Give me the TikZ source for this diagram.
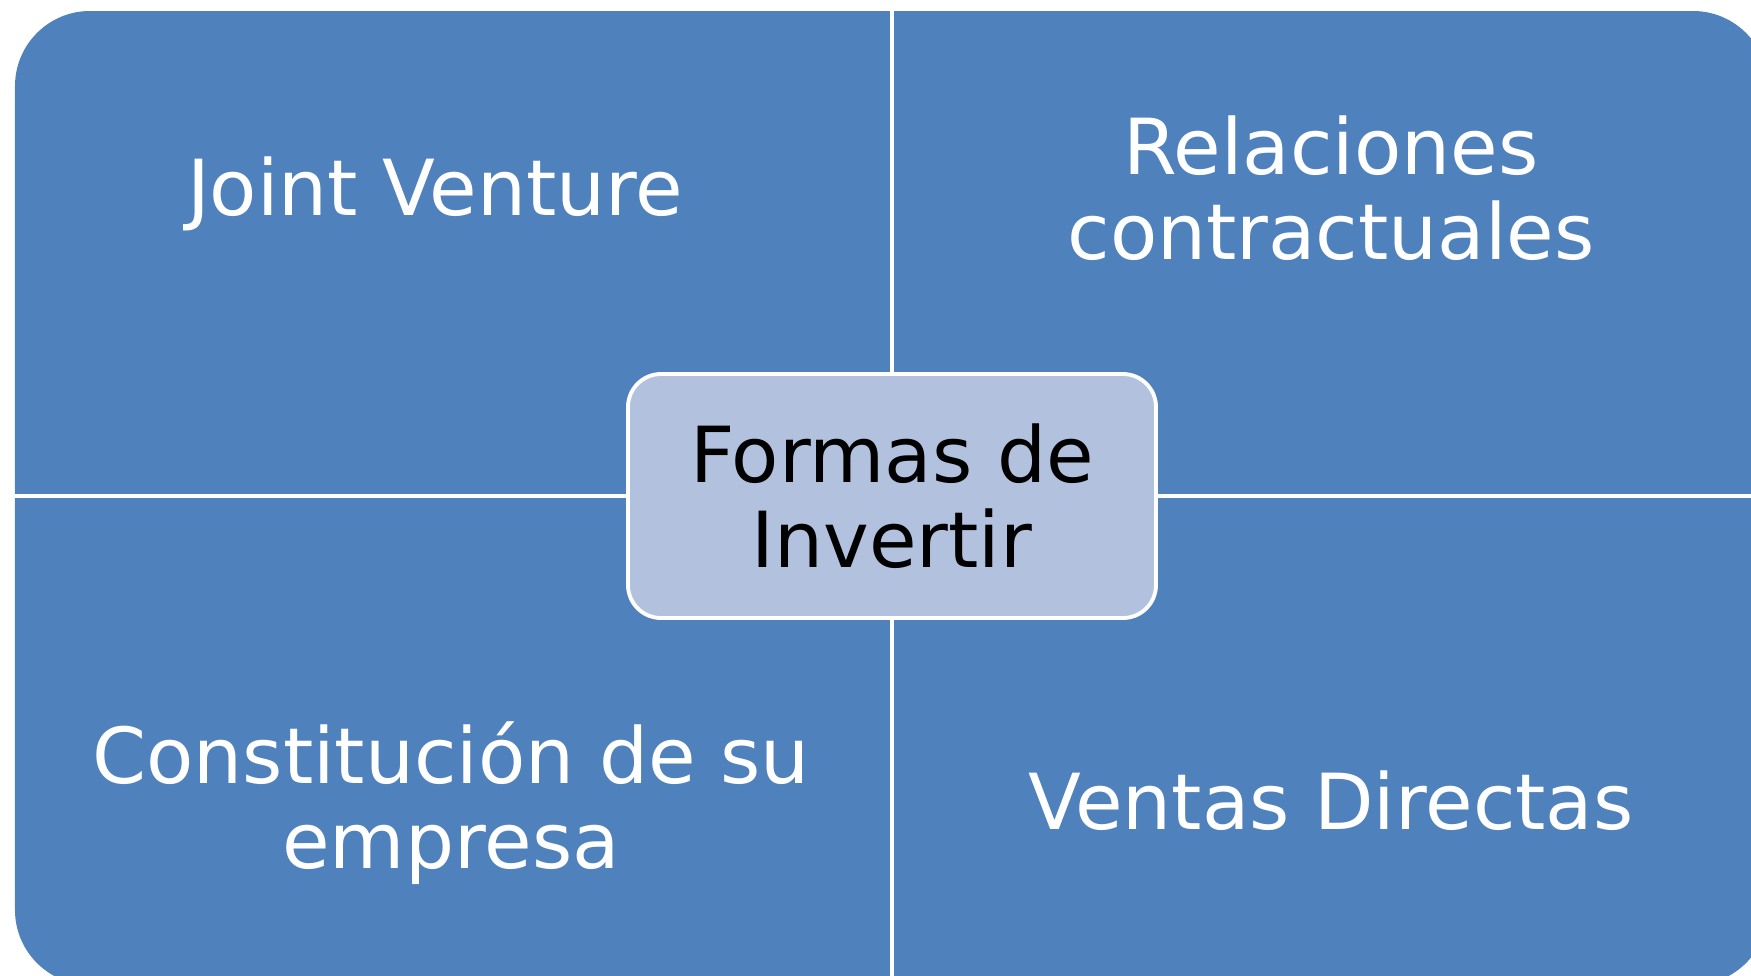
\documentclass[tikz,border=0pt]{standalone}
\usepackage{fontspec}
\setmainfont{DejaVu Sans}
\definecolor{quadblue}{HTML}{4F81BD}
\definecolor{hubblue}{HTML}{B2C1DE}

\begin{document}
\begin{tikzpicture}[
    quad/.style={text=white, align=center, anchor=base, font=\fontsize{22}{24}\selectfont},
    divider/.style={white, line width=1.3pt}]
    \useasboundingbox (0,0) rectangle (17.51,-9.75);
    \node (m) [fill=quadblue, rounded corners=0.75cm, minimum width=17.53cm, minimum height=9.74cm, inner sep=0pt] at (8.915,-4.98) {};
    \node (c) [fill=hubblue, draw=white, line width=1.1pt, rounded corners=0.33cm, minimum width=5.28cm, minimum height=2.44cm, align=center, font=\fontsize{22}{24}\selectfont] at (8.92,-4.96) {Formas de\\Invertir};
    \draw [divider] (m.north -| c) -- (c.north);
    \draw [divider] (c.south) -- (m.south -| c);
    \draw [divider] (m.west |- c) -- (c.west);
    \draw [divider] (c.east) -- (m.east |- c);
    % base of a two-line node is its last line
    \node (a) [quad] at (4.35,-2.155) {Joint Venture};
    \node (b) [quad] at (13.31,-2.59) {Relaciones\\contractuales};
    \node (d) [quad] at (4.51,-8.68) {Constitución de su\\empresa};
    \node (e) [quad] at (13.31,-8.29) {Ventas Directas};
\end{tikzpicture}
\end{document}
